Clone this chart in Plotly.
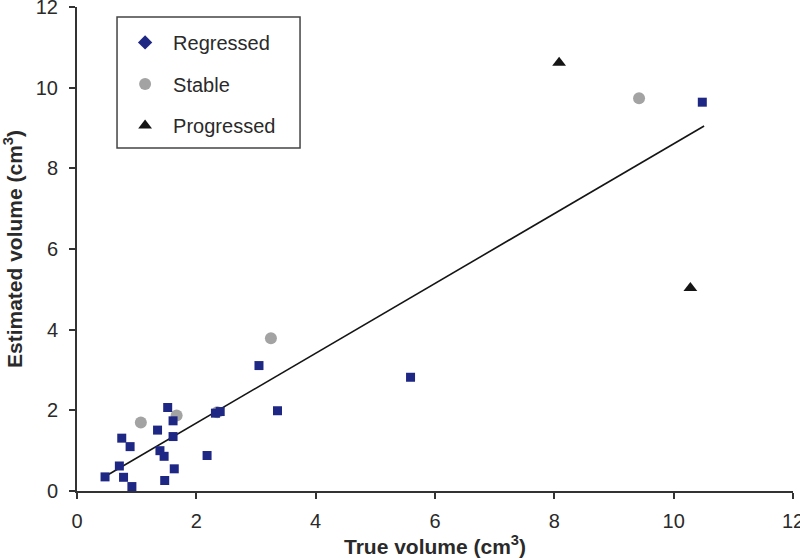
import plotly.graph_objects as go

# Data
reg_x = [0.47, 0.71, 0.78, 0.92, 0.75, 0.89, 1.35, 1.39, 1.46, 1.47, 1.63, 1.52, 1.61, 1.61, 2.18, 2.32, 2.40, 3.36, 3.05, 5.59, 10.48]
reg_y = [0.35, 0.62, 0.34, 0.11, 1.31, 1.10, 1.51, 1.00, 0.86, 0.26, 0.55, 2.07, 1.74, 1.35, 0.88, 1.93, 1.97, 1.99, 3.11, 2.82, 9.64]
stable_x = [1.07, 1.67, 2.35, 3.25, 9.42]
stable_y = [1.70, 1.87, 1.95, 3.79, 9.74]
prog_x = [8.08, 10.28]
prog_y = [10.62, 5.03]
trend_x = [0.47, 10.51]
trend_y = [0.36, 9.05]

x_ticks = [0, 2, 4, 6, 8, 10, 12]
y_ticks = [0, 2, 4, 6, 8, 10, 12]

BLUE = "#1f2785"
GRAY = "#a3a3a3"
BLACK = "#151515"
AX = "#333333"
TXT = "#2a2a2a"

fig = go.Figure()
fig.add_trace(go.Scatter(x=trend_x, y=trend_y, mode="lines",
                         line=dict(color=BLACK, width=1.6), showlegend=False, hoverinfo="skip"))
fig.add_trace(go.Scatter(x=stable_x, y=stable_y, mode="markers",
                         marker=dict(symbol="circle", size=12, color=GRAY), showlegend=False))
fig.add_trace(go.Scatter(x=reg_x, y=reg_y, mode="markers",
                         marker=dict(symbol="square", size=9, color=BLUE), showlegend=False))
fig.add_trace(go.Scatter(x=prog_x, y=prog_y, mode="markers",
                         marker=dict(symbol="triangle-up", size=12, color=BLACK), showlegend=False))

# legend entries
fig.add_trace(go.Scatter(x=[None], y=[None], mode="markers", name="Regressed", legendgroup="a",
                         marker=dict(symbol="diamond", size=11, color=BLUE)))
fig.add_trace(go.Scatter(x=[None], y=[None], mode="markers", name="Stable", legendgroup="b",
                         marker=dict(symbol="circle", size=12, color=GRAY)))
fig.add_trace(go.Scatter(x=[None], y=[None], mode="markers", name="Progressed", legendgroup="c",
                         marker=dict(symbol="triangle-up", size=12, color=BLACK)))

font = "Liberation Sans, Arial, sans-serif"
fig.update_layout(
    width=800, height=558,
    margin=dict(l=77, r=7, t=7, b=67),
    paper_bgcolor="white", plot_bgcolor="white",
    font=dict(family=font, size=20, color=TXT),
    showlegend=True,
    legend=dict(x=0.056, y=0.967, xanchor="left", yanchor="top",
                borderwidth=0, bgcolor="rgba(0,0,0,0)",
                font=dict(size=20, color=TXT), tracegroupgap=12.5,
                itemwidth=46),
    shapes=[dict(type="rect", xref="paper", yref="paper",
                 x0=0.0559, x1=0.3115, y0=0.7087, y1=0.9793,
                 line=dict(color="#444444", width=1.5), fillcolor="rgba(0,0,0,0)",
                 layer="above")],
    xaxis=dict(range=[0, 12], tickvals=x_ticks, showgrid=False, zeroline=False,
               showline=True, linecolor=AX, linewidth=2, ticks="outside",
               ticklen=6, tickwidth=2, tickcolor=AX, automargin=False,
               ticklabeloverflow="allow", ticklabelstandoff=5, tickfont=dict(size=20, color=TXT),
               title=dict(text="<b>True volume (cm<sup>3</sup>)</b>", font=dict(size=21), standoff=10)),
    yaxis=dict(range=[0, 12], tickvals=y_ticks, showgrid=False, zeroline=False,
               showline=True, linecolor=AX, linewidth=2, ticks="outside",
               ticklen=6, tickwidth=2, tickcolor=AX, automargin=False,
               ticklabeloverflow="allow", ticklabelstandoff=7, tickfont=dict(size=20, color=TXT),
               title=dict(text="<b>Estimated volume (cm<sup>3</sup>)</b>", font=dict(size=21), standoff=18)),
)

fig.write_html("out.html", config={"displayModeBar": False},
               post_script="document.body.style.margin='0px'; document.body.style.overflow='hidden';")
